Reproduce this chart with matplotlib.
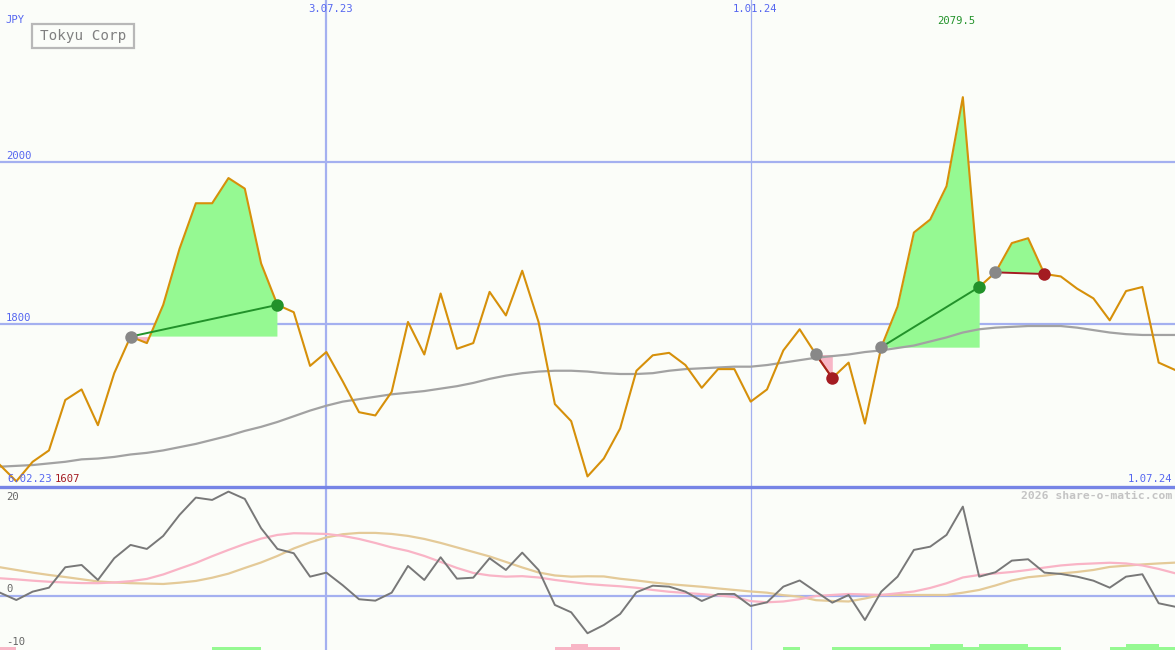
import matplotlib
matplotlib.use("Agg")
import matplotlib.pyplot as plt
from matplotlib.lines import Line2D
from matplotlib.patches import Rectangle
import numpy as np

# ---------------- data ----------------
title = "Tokyu Corp"
currency = "JPY"
start_label = "6.02.23"
end_label = "1.07.24"
min_label = "1607"
max_label = "2079.5"
vline_idx = [20, 46]
vline_labels = ["3.07.23", "1.01.24"]
price_grid = [2000, 1800]

price = [1627, 1607, 1631, 1645, 1707, 1720, 1676, 1740, 1785, 1777,
         1824, 1893, 1949, 1949, 1980, 1967, 1875, 1824, 1815, 1749,
         1766, 1730, 1692, 1688, 1717, 1803, 1763, 1838, 1770, 1777,
         1840, 1811, 1866, 1803, 1702, 1681, 1613, 1635, 1672, 1743,
         1762, 1765, 1750, 1722, 1745, 1745, 1705, 1720, 1768, 1794,
         1763, 1734, 1753, 1678, 1772, 1822, 1913, 1929, 1970, 2079.5,
         1846, 1864, 1900, 1906, 1862, 1859, 1844, 1832, 1805, 1841,
         1846, 1753, 1744]

moving_avg = [1625, 1626, 1627, 1629, 1631, 1634, 1635, 1637, 1640, 1642,
              1645, 1649, 1653, 1658, 1663, 1669, 1674, 1680, 1687, 1694,
              1700, 1705, 1708, 1711, 1714, 1716, 1718, 1721, 1724, 1728,
              1733, 1737, 1740, 1742, 1743, 1743, 1742, 1740, 1739, 1739,
              1740, 1743, 1745, 1746, 1747, 1748, 1748, 1750, 1753, 1756,
              1759, 1761, 1763, 1766, 1768, 1771, 1774, 1779, 1784, 1790,
              1794, 1796, 1797, 1798, 1798, 1798, 1796, 1793, 1790, 1788,
              1787, 1787, 1787]

oscillator = [0.55, -0.8, 0.74, 1.47, 5.23, 5.65, 2.89, 6.89, 9.34, 8.6,
              10.99, 14.86, 18.05, 17.62, 19.15, 17.81, 12.41, 8.6, 7.81, 3.5,
              4.24, 1.92, -0.66, -0.92, 0.55, 5.47, 2.89, 7.07, 3.13, 3.31,
              6.89, 4.73, 7.92, 4.73, -1.71, -3.06, -6.92, -5.4, -3.37, 0.63,
              1.84, 1.66, 0.74, -0.98, 0.31, 0.31, -1.9, -1.22, 1.66, 2.8,
              0.74, -1.29, 0.13, -4.48, 0.74, 3.5, 8.42, 9.02, 11.18, 16.39,
              3.5, 4.31, 6.45, 6.7, 4.24, 4.0, 3.5, 2.76, 1.47, 3.5,
              3.94, -1.4, -2.03]

osc_fast = [3.2, 3.0, 2.76, 2.56, 2.43, 2.32, 2.3, 2.43, 2.67, 3.08,
            3.9, 4.97, 6.02, 7.26, 8.42, 9.52, 10.5, 11.18, 11.49, 11.44,
            11.36, 11.0, 10.44, 9.7, 8.88, 8.23, 7.31, 6.21, 5.1, 4.18,
            3.72, 3.5, 3.59, 3.35, 2.89, 2.52, 2.15, 1.92, 1.73, 1.45,
            1.05, 0.72, 0.5, 0.29, 0.04, -0.24, -1.0, -1.22, -1.07, -0.66,
            -0.06, 0.13, 0.31, 0.22, 0.13, 0.44, 0.77, 1.42, 2.28, 3.35,
            3.81, 4.09, 4.36, 4.73, 5.17, 5.56, 5.8, 5.93, 6.06, 5.93,
            5.56, 4.92, 4.13]

osc_slow = [5.23, 4.73, 4.24, 3.81, 3.43, 3.02, 2.62, 2.43, 2.3, 2.23,
            2.15, 2.39, 2.71, 3.3, 4.05, 5.1, 6.11, 7.31, 8.69, 9.8,
            10.72, 11.31, 11.55, 11.55, 11.36, 11.0, 10.44, 9.71, 8.88, 8.05,
            7.22, 6.21, 5.19, 4.27, 3.72, 3.5, 3.57, 3.54, 3.11, 2.8,
            2.43, 2.12, 1.88, 1.64, 1.33, 1.05, 0.77, 0.55, 0.09, -0.18,
            -0.83, -0.98, -1.07, -0.52, 0.13, 0.13, 0.13, 0.13, 0.13, 0.55,
            1.05, 1.88, 2.8, 3.39, 3.68, 4.09, 4.36, 4.73, 5.29, 5.52,
            5.75, 5.93, 6.08]

signal_bars = [-0.5, 0, 0, 0, 0, 0, 0, 0, 0, 0,
               0, 0, 0, 0.6, 0.6, 0.6, 0, 0, 0, 0,
               0, 0, 0, 0, 0, 0, 0, 0, 0, 0,
               0, 0, 0, 0, -0.5, -1.1, -0.5, -0.5, 0, 0,
               0, 0, 0, 0, 0, 0, 0, 0, 0.6, 0,
               0, 0.6, 0.6, 0.6, 0.6, 0.6, 0.6, 1.1, 1.1, 0.6,
               1.1, 1.1, 1.1, 0.6, 0.6, 0, 0, 0, 0.6, 1.1,
               1.1, 0.6]

trade_entries = [8, 50, 54, 61]
trade_exits = [17, 51, 60, 64]

# ---------------- styling ----------------
W, H = 1175, 650
BG = "#fbfdf9"
GRID = "#a4b0f0"
DIV = "#7684e6"
ORANGE = "#d6900a"
MA_COL = "#a2a2a2"
OSC_COL = "#787878"
PINK = "#f9b4c6"
TAN = "#e4ca98"
FILL_G = "#95f992"
FILL_P = "#f8b6c6"
DOT_G = "#22922a"
DOT_R = "#a41c22"
DOT_ENTRY = "#888888"
BLUE_TXT = "#5566f0"
MONO = "DejaVu Sans Mono"

fig = plt.figure(figsize=(W / 100, H / 100), dpi=100, facecolor=BG)
split = 487
ax = fig.add_axes([0, (H - split) / H, 1, split / H])
ax2 = fig.add_axes([0, 0, 1, (H - split) / H])
for a in (ax, ax2):
    a.set_facecolor(BG)
    for s in a.spines.values():
        s.set_visible(False)
    a.set_xticks([])
    a.set_yticks([])

x = np.arange(len(price))
p = np.array(price, dtype=float)
n = len(price)
ax.set_xlim(0, n - 1)
ax2.set_xlim(0, n - 1)
ax.set_ylim(1600, 2199)
ax2.set_ylim(-10, 20)

# grid
for g in price_grid:
    ax.axhline(g, color=GRID, lw=1.6, zorder=1)
ax2.axhline(0, color=GRID, lw=1.6, zorder=1)
for k, vi in enumerate(vline_idx):
    lw = 1.6 if k == 0 else 0.9
    ax.axvline(vi, color=GRID, lw=lw, zorder=1)
    ax2.axvline(vi, color=GRID, lw=lw, zorder=1)

# trade fills
for e, xo in zip(trade_entries, trade_exits):
    xs = x[e:xo + 1]
    ys = p[e:xo + 1]
    lvl = p[e]
    ax.fill_between(xs, ys, lvl, where=ys >= lvl, interpolate=True,
                    color=FILL_G, lw=0, zorder=2)
    ax.fill_between(xs, ys, lvl, where=ys <= lvl, interpolate=True,
                    color=FILL_P, lw=0, zorder=2)

# lines
ax.plot(x, moving_avg, color=MA_COL, lw=1.6, zorder=3)
ax.plot(x, p, color=ORANGE, lw=1.5, zorder=4)

for e, xo in zip(trade_entries, trade_exits):
    win = p[xo] > p[e]
    c = DOT_G if win else DOT_R
    ax.plot([x[e], x[xo]], [p[e], p[xo]], color=c, lw=1.4, zorder=5)
    ax.plot(x[e], p[e], "o", color=DOT_ENTRY, ms=9, mec="none", zorder=6)
    ax.plot(x[xo], p[xo], "o", color=c, ms=9, mec="none", zorder=6)

# lower panel
sb = np.array(signal_bars, dtype=float)
cols = [FILL_G if v > 0 else FILL_P for v in sb]
ax2.bar(np.arange(len(sb)), np.abs(sb), width=1, align="edge", bottom=-10,
        color=cols, lw=0, zorder=2)
ax2.plot(x, osc_slow, color=TAN, lw=1.6, zorder=3)
ax2.plot(x, osc_fast, color=PINK, lw=1.6, zorder=3)
ax2.plot(x, oscillator, color=OSC_COL, lw=1.4, zorder=4)

# divider
fig.add_artist(Line2D([0, 1], [(H - split) / H] * 2, color=DIV, lw=2.4))


def ftext(px, py, s, **kw):
    kw.setdefault("family", MONO)
    kw.setdefault("fontsize", 7.6)
    kw.setdefault("va", "center")
    fig.text(px / W, 1 - py / H, s, **kw)


ftext(5, 20, currency, color=BLUE_TXT)
for vi, lab in zip(vline_idx, vline_labels):
    xp = vi / (n - 1) * W
    ftext(xp + 4, 9, lab, color=BLUE_TXT, ha="center")
for g in price_grid:
    yp = (2199 - g) / (2199 - 1600) * split
    ftext(6, yp - 6, str(g), color=BLUE_TXT)

imax = int(np.argmax(p))
ftext(imax / (n - 1) * W - 7, 21, max_label, color=DOT_G, ha="center")
ftext(7, 479, start_label, color=BLUE_TXT)
ftext(55, 479, min_label, color=DOT_R)
ftext(1172, 479, end_label, color=BLUE_TXT, ha="right")
ftext(1172, 496, "2026 share-o-matic.com", color="#c4c4c4", ha="right",
      fontsize=8.2, fontweight="bold")
ftext(6, 497, "20", color="#666666")
ftext(6, 589, "0", color="#666666")
ftext(6, 642, "-10", color="#666666")

# title box
fig.add_artist(Rectangle((32 / W, 1 - 48 / H), 102 / W, 24 / H,
                         transform=fig.transFigure, fill=False,
                         ec="#b8b8b8", lw=1.6))
ftext(83, 36, title, color="#808080", ha="center", fontsize=10.3)

fig.savefig("out.png", dpi=100, facecolor=BG)
